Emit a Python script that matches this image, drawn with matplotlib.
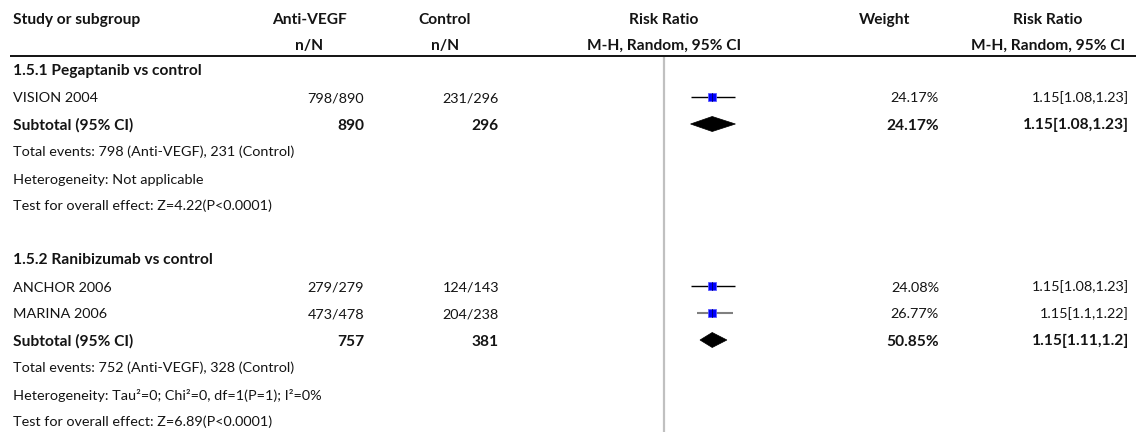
import numpy as np
import matplotlib
matplotlib.use("Agg")
import matplotlib.pyplot as plt
from matplotlib.patches import Polygon

# ---- data -------------------------------------------------------------
subgroup_names = ["1.5.1 Pegaptanib vs control", "1.5.2 Ranibizumab vs control"]
study_names = [["VISION 2004"], ["ANCHOR 2006", "MARINA 2006"]]
events_anti = [[798], [279, 473]]
total_anti = [[890], [279, 478]]
events_ctrl = [[231], [124, 204]]
total_ctrl = [[296], [143, 238]]
study_rr = [[1.15], [1.15, 1.15]]
study_lo = [[1.08], [1.08, 1.1]]
study_hi = [[1.23], [1.23, 1.22]]
study_weight = [[24.17], [24.08, 26.77]]

sub_rr = [1.15, 1.15]
sub_lo = [1.08, 1.11]
sub_hi = [1.23, 1.2]
sub_weight = [24.17, 50.85]
heterogeneity = ["Heterogeneity: Not applicable",
                 "Heterogeneity: Tau\u00b2=0; Chi\u00b2=0, df=1(P=1); I\u00b2=0%"]
overall_effect = ["Test for overall effect: Z=4.22(P<0.0001)",
                  "Test for overall effect: Z=6.89(P<0.0001)"]

# ---- figure / layout ---------------------------------------------------
W, H = 1136, 432
FONT = ["Lato", "DejaVu Sans"]
TXT = "#141414"

fig = plt.figure(figsize=(W / 100, H / 100), dpi=100)
ax = fig.add_axes([0, 0, 1, 1])
ax.set_xlim(0, W)
ax.set_ylim(H, 0)
ax.axis("off")

renderer = fig.canvas.get_renderer()


def fit_size(text, target_px, weight="normal"):
    t = fig.text(0, 0, text, fontsize=10, family=FONT, weight=weight)
    w = t.get_window_extent(renderer=renderer).width
    t.remove()
    return 10 * target_px / w


FS = fit_size("Test for overall effect: Z=6.89(P<0.0001)", 259)
FS_B = fit_size("Subtotal (95% CI)", 120, weight="bold")

X_STUDY = 13
X_ANTI_C, X_ANTI_R = 309, 364
X_CTRL_C, X_CTRL_R = 445, 499
X_FOREST_C = 664
X_WEIGHT_C, X_WEIGHT_R = 885, 939
X_RR_C, X_RR_R = 1048, 1129


def txt(x, y, s, ha="left", bold=False):
    ax.text(x, y, s, ha=ha, va="baseline", fontsize=FS_B if bold else FS,
            family=FONT, weight="bold" if bold else "normal", color=TXT)


# header
HB1, HB2 = 24, 50
txt(X_STUDY, HB1, "Study or subgroup", bold=True)
txt(X_ANTI_C, HB1, "Anti-VEGF", ha="center", bold=True)
txt(X_ANTI_C, HB2, "n/N", ha="center", bold=True)
txt(X_CTRL_C, HB1, "Control", ha="center", bold=True)
txt(X_CTRL_C, HB2, "n/N", ha="center", bold=True)
txt(X_FOREST_C, HB1, "Risk Ratio", ha="center", bold=True)
txt(X_FOREST_C, HB2, "M-H, Random, 95% CI", ha="center", bold=True)
txt(X_WEIGHT_C, HB1, "Weight", ha="center", bold=True)
txt(X_RR_C, HB1, "Risk Ratio", ha="center", bold=True)
txt(X_RR_C, HB2, "M-H, Random, 95% CI", ha="center", bold=True)
ax.plot([10, W], [55.5, 55.5], color="black", lw=1.3, solid_capstyle="butt")

# forest axes on a log scale, sharing the row coordinates
PX_PER_LN = 345.0
F_LEFT, F_RIGHT = 560, 770
f_xlim = (np.exp((F_LEFT - X_FOREST_C) / PX_PER_LN),
          np.exp((F_RIGHT - X_FOREST_C) / PX_PER_LN))
fax = fig.add_axes([F_LEFT / W, 0, (F_RIGHT - F_LEFT) / W, 1])
fax.set_xscale("log")
fax.set_xlim(*f_xlim)
fax.set_ylim(H, 0)
fax.axis("off")
fax.patch.set_alpha(0)

fax.plot([1, 1], [57, H], color="#c0c0c0", lw=1.6, solid_capstyle="butt")

ROW0, PITCH, BASE_OFF = 70, 27, 5.5


def row_y(i):
    return ROW0 + PITCH * i


def rr_label(r, lo, hi):
    return f"{r:g}[{lo:g},{hi:g}]"


row = 0
for g in range(len(subgroup_names)):
    txt(X_STUDY, row_y(row) + BASE_OFF, subgroup_names[g], bold=True)
    row += 1
    for k, name in enumerate(study_names[g]):
        y = row_y(row)
        yb = y + BASE_OFF
        txt(X_STUDY, yb, name)
        txt(X_ANTI_R, yb, f"{events_anti[g][k]}/{total_anti[g][k]}", ha="right")
        txt(X_CTRL_R, yb, f"{events_ctrl[g][k]}/{total_ctrl[g][k]}", ha="right")
        txt(X_WEIGHT_R, yb, f"{study_weight[g][k]:.2f}%", ha="right")
        txt(X_RR_R, yb, rr_label(study_rr[g][k], study_lo[g][k], study_hi[g][k]),
            ha="right")
        narrow = study_hi[g][k] - study_lo[g][k] < 0.13
        fax.plot([study_lo[g][k], study_hi[g][k]], [y, y],
                 color="#808080" if narrow else "black",
                 lw=1.5 if narrow else 1.0, solid_capstyle="butt", zorder=2)
        side = 1.55 * np.sqrt(study_weight[g][k])
        fax.plot([study_rr[g][k]], [y], marker="s", ms=side * 0.72,
                 mfc="#0000ff", mec="#5a5aff", mew=0.6, zorder=3)
        fax.plot([study_rr[g][k]] * 2, [y - side / 2, y + side / 2],
                 color="#00006a", lw=0.6, zorder=4)
        row += 1

    # subtotal row
    y = row_y(row)
    yb = y + BASE_OFF
    txt(X_STUDY, yb, "Subtotal (95% CI)", bold=True)
    txt(X_ANTI_R, yb, f"{sum(total_anti[g])}", ha="right", bold=True)
    txt(X_CTRL_R, yb, f"{sum(total_ctrl[g])}", ha="right", bold=True)
    txt(X_WEIGHT_R, yb, f"{sub_weight[g]:.2f}%", ha="right", bold=True)
    txt(X_RR_R, yb, rr_label(sub_rr[g], sub_lo[g], sub_hi[g]), ha="right",
        bold=True)
    hh = 7.5
    fax.add_patch(Polygon([(sub_lo[g], y), (sub_rr[g], y - hh),
                           (sub_hi[g], y), (sub_rr[g], y + hh)],
                          closed=True, facecolor="black", edgecolor="black",
                          lw=0.5, zorder=3))
    row += 1

    txt(X_STUDY, row_y(row) + BASE_OFF,
        f"Total events: {sum(events_anti[g])} (Anti-VEGF), "
        f"{sum(events_ctrl[g])} (Control)")
    row += 1
    txt(X_STUDY, row_y(row) + BASE_OFF, heterogeneity[g])
    row += 1
    txt(X_STUDY, row_y(row) + BASE_OFF, overall_effect[g])
    row += 2

fig.savefig("out.png", dpi=100)
